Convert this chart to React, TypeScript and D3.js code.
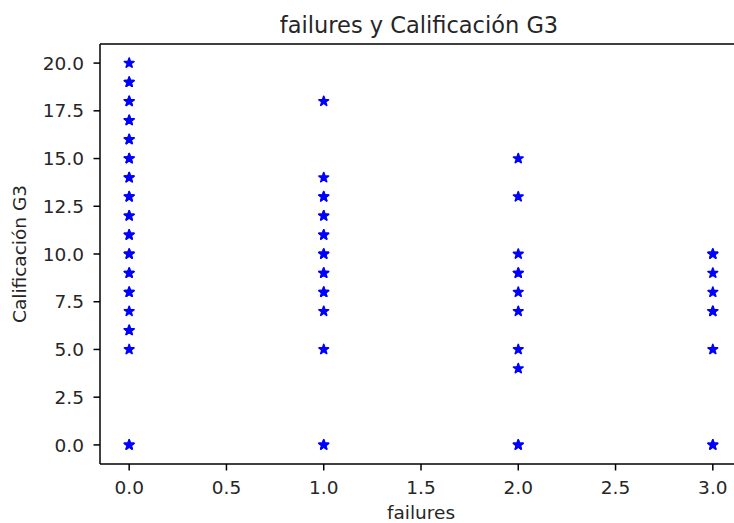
import React from "react";
import * as d3 from "d3";

// Number of past class failures (x) and final grade G3 (y).
// Repeated grades are students sharing the same point.
const failureLevels = [0, 1, 2, 3];
const gradesFailures0 = [20, 19, 19, 18, 18, 17, 17, 16, 16, 15, 15, 14, 14, 13, 13, 12, 12, 11, 11, 10, 10, 9, 9, 8, 8, 7, 6, 6, 5, 0, 0];
const gradesFailures1 = [18, 14, 13, 13, 12, 12, 11, 11, 10, 10, 9, 9, 8, 8, 7, 5, 0, 0];
const gradesFailures2 = [15, 13, 10, 9, 9, 8, 7, 5, 4, 0, 0];
const gradesFailures3 = [10, 10, 9, 8, 7, 7, 5, 0, 0];
const gradesByFailures = [gradesFailures0, gradesFailures1, gradesFailures2, gradesFailures3];

const xTicks = [0, 0.5, 1, 1.5, 2, 2.5, 3];
const yTicks = [0, 2.5, 5, 7.5, 10, 12.5, 15, 17.5, 20];

const titleText = "failures y Calificación G3";
const xLabelText = "failures";
const yLabelText = "Calificación G3";

const W = 734;
const H = 523;
const margin = { left: 100, top: 44, bottom: 464, right: 742 };
const font = "'DejaVu Sans', sans-serif";
const ink = "#262626";

function starPath(r: number): string {
  const inner = r * 0.381966;
  const pts: [number, number][] = [];
  for (let i = 0; i < 10; i++) {
    const a = -Math.PI / 2 + (i * Math.PI) / 5;
    const rr = i % 2 === 0 ? r : inner;
    pts.push([rr * Math.cos(a), rr * Math.sin(a)]);
  }
  return d3.line()(pts)! + "Z";
}

export default function App() {
  const x = d3.scaleLinear().domain([-0.15, 3.15]).range([margin.left, margin.right]);
  const y = d3.scaleLinear().domain([-1, 21]).range([margin.bottom, margin.top]);
  const star = starPath(5);

  const points = failureLevels.flatMap((f, i) =>
    gradesByFailures[i].map((g) => ({ f, g }))
  );

  return (
    <svg
      width={W}
      height={H}
      style={{ position: "absolute", left: 0, top: 0, background: "#fff" }}
      fontFamily={font}
    >
      <rect x={0} y={0} width={W} height={H} fill="#fff" />
      {/* markers */}
      <g>
        {points.map((p, i) => (
          <path
            key={i}
            d={star}
            transform={`translate(${x(p.f)},${y(p.g)})`}
            fill="#0000ff"
            stroke="#0000ff"
            strokeWidth={1.7}
            strokeLinejoin="round"
          />
        ))}
      </g>
      {/* spines */}
      <g stroke="#000" strokeWidth={1.5} fill="none">
        <line x1={margin.left} x2={margin.right} y1={margin.top} y2={margin.top} />
        <line x1={margin.left} x2={margin.right} y1={margin.bottom} y2={margin.bottom} />
        <line x1={margin.left} x2={margin.left} y1={margin.top} y2={margin.bottom} />
        <line x1={margin.right} x2={margin.right} y1={margin.top} y2={margin.bottom} />
      </g>
      {/* x axis ticks */}
      <g>
        {xTicks.map((t) => (
          <g key={t} transform={`translate(${x(t)},${margin.bottom})`}>
            <line y1={0} y2={6.5} stroke="#000" strokeWidth={1.5} />
            <text y={30} textAnchor="middle" fontSize={18.5} fill={ink}>
              {t.toFixed(1)}
            </text>
          </g>
        ))}
      </g>
      {/* y axis ticks */}
      <g>
        {yTicks.map((t) => (
          <g key={t} transform={`translate(${margin.left},${y(t)})`}>
            <line x1={0} x2={-6.5} stroke="#000" strokeWidth={1.5} />
            <text x={-16} dy="0.36em" textAnchor="end" fontSize={18.5} fill={ink}>
              {t.toFixed(1)}
            </text>
          </g>
        ))}
      </g>
      <text x={(margin.left + margin.right) / 2 - 2} y={33} textAnchor="middle" fontSize={22.5} fill={ink}>
        {titleText}
      </text>
      <text x={(margin.left + margin.right) / 2} y={519} textAnchor="middle" fontSize={18.5} fill={ink}>
        {xLabelText}
      </text>
      <text
        transform={`translate(26,${(margin.top + margin.bottom) / 2}) rotate(-90)`}
        textAnchor="middle"
        fontSize={18.5}
        fill={ink}
      >
        {yLabelText}
      </text>
    </svg>
  );
}
